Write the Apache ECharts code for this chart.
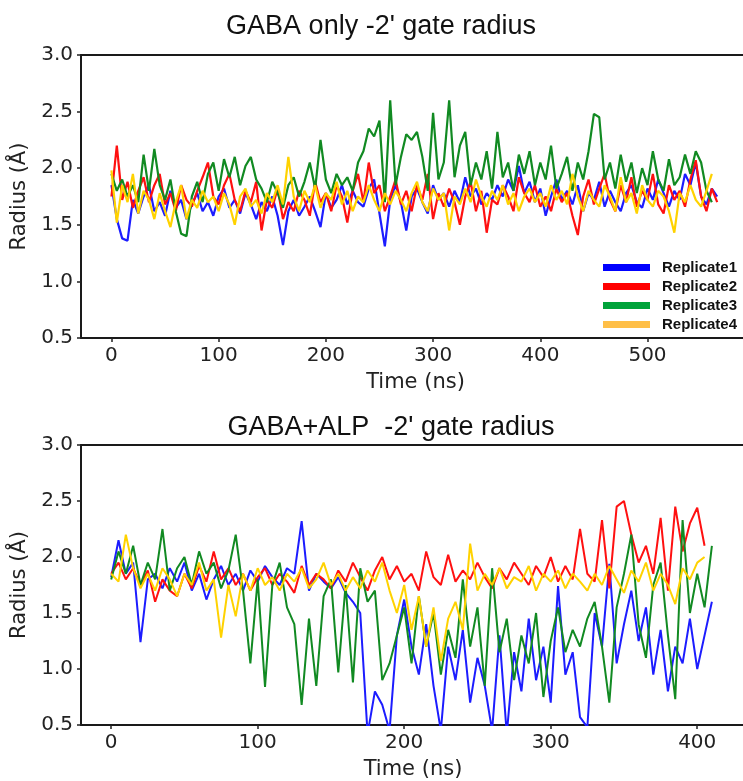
<!DOCTYPE html>
<html>
<head>
<meta charset="utf-8">
<script src="https://cdn.jsdelivr.net/npm/echarts@6/dist/echarts.min.js"></script>
<style>
html,body{margin:0;padding:0;background:#fff;overflow:hidden;}
#chart{width:770px;height:781px;}
</style>
</head>
<body>
<div id="chart"></div>
<script>
// ---- Data (time step in ns between samples) ----
const topStep = 5;
const bottomStep = 5;
const seriesNames = ['Replicate1', 'Replicate2', 'Replicate3', 'Replicate4'];
const xTicksTop = [0, 100, 200, 300, 400, 500];
const xTicksBottom = [0, 100, 200, 300, 400];
const titleTop = "GABA only -2' gate radius";
const titleBottom = "GABA+ALP  -2' gate radius";

// GABA only
const topR1 = [
1.85,1.55,1.38,1.36,1.72,1.60,1.75,1.85,1.62,1.70,
1.58,1.80,1.65,1.72,1.55,1.68,1.78,1.62,1.70,1.58,
1.75,1.82,1.65,1.72,1.60,1.78,1.68,1.55,1.70,1.62,
1.75,1.58,1.32,1.62,1.72,1.58,1.66,1.75,1.62,1.48,
1.78,1.65,1.72,1.85,1.68,1.80,1.70,1.66,1.82,1.90,
1.60,1.31,1.72,1.85,1.70,1.45,1.75,1.82,1.70,1.60,
1.85,1.72,1.78,1.66,1.80,1.70,1.92,1.75,1.82,1.68,
1.78,1.72,1.85,1.75,1.90,1.80,2.02,1.78,1.88,1.70,
1.82,1.58,1.75,1.90,1.72,1.80,1.68,1.85,1.62,1.78,
1.72,1.88,1.66,1.80,1.70,1.62,1.78,1.85,1.70,1.65,
1.82,1.72,1.90,1.78,1.66,1.80,1.72,1.95,1.85,2.05,
1.75,1.68,1.82,1.75];
const topR2 = [
1.75,2.20,1.72,1.88,1.65,1.80,1.92,1.70,1.85,1.95,
1.68,1.78,1.62,1.85,1.72,1.66,1.80,1.92,2.05,1.75,
1.68,1.85,1.95,1.72,1.62,1.80,1.70,1.88,1.45,1.72,
1.65,1.82,1.55,1.70,1.62,1.80,1.72,1.58,1.88,1.70,
1.78,1.62,1.85,1.75,1.52,1.80,1.95,1.70,2.05,1.78,
1.85,1.62,1.75,1.90,1.68,1.80,1.62,1.85,1.72,1.95,
1.55,1.78,1.66,1.82,1.70,1.50,1.75,1.88,1.62,1.80,
1.43,1.72,1.68,1.85,1.75,1.62,1.92,1.78,1.70,1.85,
1.66,1.75,1.62,1.82,1.70,1.78,1.58,1.41,1.75,1.90,
1.68,1.82,1.95,1.72,1.62,1.85,1.70,1.92,1.66,1.80,
1.72,1.95,1.68,1.60,1.85,1.72,1.80,1.66,1.90,2.07,
1.75,1.62,1.82,1.70];
const topR3 = [
1.95,1.80,1.90,1.75,1.85,1.70,2.12,1.80,2.17,1.85,
1.72,1.90,1.62,1.42,1.40,1.75,1.88,1.70,1.95,2.05,
1.80,2.08,1.92,2.10,1.85,2.02,2.10,1.90,1.82,1.70,
1.88,1.78,1.65,1.85,1.92,1.75,1.88,2.05,1.82,2.25,
1.90,1.78,1.95,1.85,1.92,1.80,2.05,2.15,2.35,2.28,
2.42,1.70,2.60,1.85,2.10,2.30,2.25,2.32,2.10,1.80,
2.49,1.90,2.05,2.60,1.92,2.20,2.32,1.85,2.05,1.90,
2.15,1.82,2.32,1.92,2.05,1.80,2.12,1.95,2.15,1.85,
2.05,1.90,2.20,1.82,1.95,2.10,1.80,2.05,1.90,2.15,
2.48,2.45,1.90,2.05,1.82,2.12,1.88,2.05,1.78,2.00,
1.85,2.15,1.90,1.80,2.08,1.85,1.92,2.12,1.95,2.15,
2.05,1.80,1.70];
const topR4 = [
1.98,1.52,1.85,1.70,1.95,1.60,1.80,1.72,1.55,1.78,
1.62,1.48,1.70,1.85,1.55,1.72,1.65,1.80,1.70,1.75,
1.62,1.78,1.68,1.50,1.75,1.82,1.66,1.72,1.60,1.78,
1.70,1.85,1.68,2.10,1.75,1.62,1.80,1.70,1.85,1.65,
1.78,1.72,1.88,1.68,1.80,1.62,1.75,1.70,1.85,1.72,
1.62,1.78,1.68,1.80,1.72,1.62,1.78,1.88,1.70,1.62,
1.82,1.72,1.78,1.45,1.75,1.68,1.82,1.70,1.90,1.75,
1.66,1.80,1.72,1.85,1.68,1.78,1.62,1.75,1.82,1.70,
1.78,1.66,1.85,1.72,1.80,1.68,1.95,1.75,1.62,1.80,
1.72,1.66,1.85,1.75,1.62,1.92,1.70,1.78,1.60,1.85,
1.72,1.66,1.80,1.75,1.62,1.43,1.78,1.70,1.85,1.72,
1.66,1.80,1.95];

// GABA+ALP
const botR1 = [
1.82,2.15,1.85,1.95,1.24,1.80,1.85,1.72,1.90,1.78,
1.95,1.70,1.85,1.62,1.80,1.92,1.75,1.85,1.70,1.88,
1.78,1.92,1.82,1.75,1.90,1.85,2.32,1.70,1.85,1.78,
1.72,1.82,1.68,1.60,1.50,0.42,0.80,0.68,0.45,1.30,
1.62,1.20,0.95,1.40,0.85,0.45,1.20,0.90,1.35,0.70,
1.10,0.85,0.45,1.30,0.42,1.15,0.80,1.45,0.90,1.20,
0.70,1.74,0.95,1.15,0.57,0.48,1.50,1.20,1.94,1.05,
1.40,1.70,1.25,1.55,0.95,1.35,0.80,1.20,1.05,1.45,
1.00,1.30,1.60];
const botR2 = [
1.85,1.95,1.80,1.90,1.75,1.88,1.60,1.80,1.70,1.65,
1.85,1.72,1.92,1.78,2.05,1.80,1.90,1.75,1.85,1.70,
1.82,1.90,1.75,1.85,1.78,1.68,1.92,1.75,1.85,1.80,
1.72,1.88,1.78,1.95,1.82,1.70,1.88,2.00,1.80,1.92,
1.78,1.85,1.70,2.05,1.82,1.75,2.02,1.78,1.88,1.80,
1.95,1.82,1.72,1.90,1.80,1.95,1.85,1.75,1.92,1.82,
2.00,1.78,1.92,1.80,2.25,1.85,1.78,2.33,1.72,2.45,
2.50,2.20,1.95,2.10,1.85,2.35,1.70,2.45,2.05,2.30,
2.44,2.10];
const botR3 = [
1.80,2.05,1.85,2.10,1.75,1.95,1.80,2.25,1.70,1.90,
2.00,1.75,2.05,1.85,1.95,1.72,1.88,2.20,1.70,1.05,
1.80,0.84,1.75,1.95,1.55,1.40,0.68,1.45,0.85,1.65,
1.80,0.97,1.75,0.88,1.90,1.60,1.70,0.90,1.05,1.30,
1.55,1.05,1.65,1.20,1.50,0.95,1.35,1.10,1.80,1.20,
1.55,0.85,1.90,1.15,1.45,0.90,1.30,1.05,1.50,0.75,
1.25,1.55,1.15,1.35,1.20,1.45,1.60,1.20,0.70,1.55,
1.85,2.20,1.40,1.10,1.75,1.95,1.30,0.73,2.33,1.50,
1.85,1.55,2.10];
const botR4 = [
1.85,1.78,2.20,1.90,1.72,1.85,1.70,1.90,1.80,1.65,
1.85,1.75,1.95,1.70,1.80,1.28,1.75,1.47,1.85,1.70,
1.90,1.75,1.82,1.70,1.85,1.78,1.90,1.72,1.80,1.95,
1.75,1.85,1.70,1.82,1.72,1.88,1.78,1.95,1.70,1.50,
1.75,1.35,1.65,1.20,1.55,1.07,1.45,1.60,1.35,2.12,
1.70,1.85,1.75,1.90,1.72,1.82,1.78,1.92,1.70,1.85,
1.78,1.88,1.72,1.85,1.78,1.70,1.85,1.75,1.92,1.80,
1.68,1.88,1.78,1.95,1.70,1.85,1.75,1.58,1.90,1.80,
1.95,2.00];

// ---- Styles ----
const lineColors = ['#1c1cff', '#ff1010', '#118a22', '#ffd200'];
const legendColors = ['#0000ff', '#ff0000', '#00a33a', '#ffbf47'];
const tickFont = 'DejaVu Sans';
const titleFont = 'Liberation Sans';

function pairs(arr, step) { return arr.map((v, i) => [i * step, v]); }

const chart = echarts.init(document.getElementById('chart'), null, {renderer: 'canvas'});

const grids = [
  {left: 81, top: 55, width: 669, height: 283, show: true, borderColor: '#1a1a1a', borderWidth: 2, backgroundColor: 'transparent'},
  {left: 81, top: 445, width: 664, height: 282, show: true, borderColor: '#1a1a1a', borderWidth: 2, backgroundColor: 'transparent'}
];

function xAxis(gi, min, max, ticks) {
  return {
    type: 'value', gridIndex: gi, min: min, max: max,
    name: 'Time (ns)', nameLocation: 'middle', nameGap: 34,
    nameTextStyle: {fontFamily: tickFont, fontSize: 21, color: '#222'},
    axisLine: {show: false, onZero: false},
    splitLine: {show: false},
    axisTick: {show: true, length: 4, customValues: ticks, lineStyle: {color: '#222', width: 1.5}},
    axisLabel: {customValues: ticks, fontFamily: tickFont, fontSize: 20, color: '#222', margin: 8}
  };
}
function yAxis(gi) {
  return {
    type: 'value', gridIndex: gi, min: 0.5, max: 3.0, interval: 0.5,
    name: 'Radius (Å)', nameLocation: 'middle', nameGap: 48,
    nameTextStyle: {fontFamily: tickFont, fontSize: 21, color: '#222'},
    axisLine: {show: false, onZero: false},
    splitLine: {show: false},
    axisTick: {show: true, length: 4, lineStyle: {color: '#222', width: 1.5}},
    axisLabel: {fontFamily: tickFont, fontSize: 20, color: '#222', margin: 8,
      formatter: v => v.toFixed(1)}
  };
}

const topData = [topR1, topR2, topR3, topR4];
const botData = [botR1, botR2, botR3, botR4];
const series = [];
topData.forEach((d, i) => series.push({
  name: seriesNames[i], type: 'line', xAxisIndex: 0, yAxisIndex: 0,
  data: pairs(d, topStep), showSymbol: false, symbol: 'none',
  lineStyle: {color: lineColors[i], width: 2.2}, itemStyle: {color: legendColors[i]},
  emphasis: {disabled: true}, clip: true
}));
botData.forEach((d, i) => series.push({
  name: seriesNames[i], type: 'line', xAxisIndex: 1, yAxisIndex: 1,
  data: pairs(d, bottomStep), showSymbol: false, symbol: 'none',
  lineStyle: {color: lineColors[i], width: 2}, itemStyle: {color: legendColors[i]},
  emphasis: {disabled: true}, clip: true
}));

chart.setOption({
  animation: false,
  backgroundColor: '#ffffff',
  grid: grids,
  xAxis: [xAxis(0, -28.4, 595.6, xTicksTop), xAxis(1, -20.6, 432.6, xTicksBottom)],
  yAxis: [yAxis(0), yAxis(1)],
  legend: {
    data: seriesNames, orient: 'vertical', left: 603, top: 260, padding: 0,
    icon: 'rect', itemWidth: 47, itemHeight: 7, itemGap: 4,
    selectedMode: false,
    textStyle: {fontFamily: titleFont, fontWeight: 'bold', fontSize: 15, color: '#111', lineHeight: 15, padding: [0, 0, 0, 7]}
  },
  graphic: [
    {type: 'text', x: 381, y: 27, style: {text: titleTop, fontFamily: titleFont, fontSize: 27, fill: '#111', align: 'center', verticalAlign: 'middle'}, z: 10},
    {type: 'text', x: 391, y: 428, style: {text: titleBottom, fontFamily: titleFont, fontSize: 27, fill: '#111', align: 'center', verticalAlign: 'middle'}, z: 10}
  ],
  series: series
});
</script>
</body>
</html>
